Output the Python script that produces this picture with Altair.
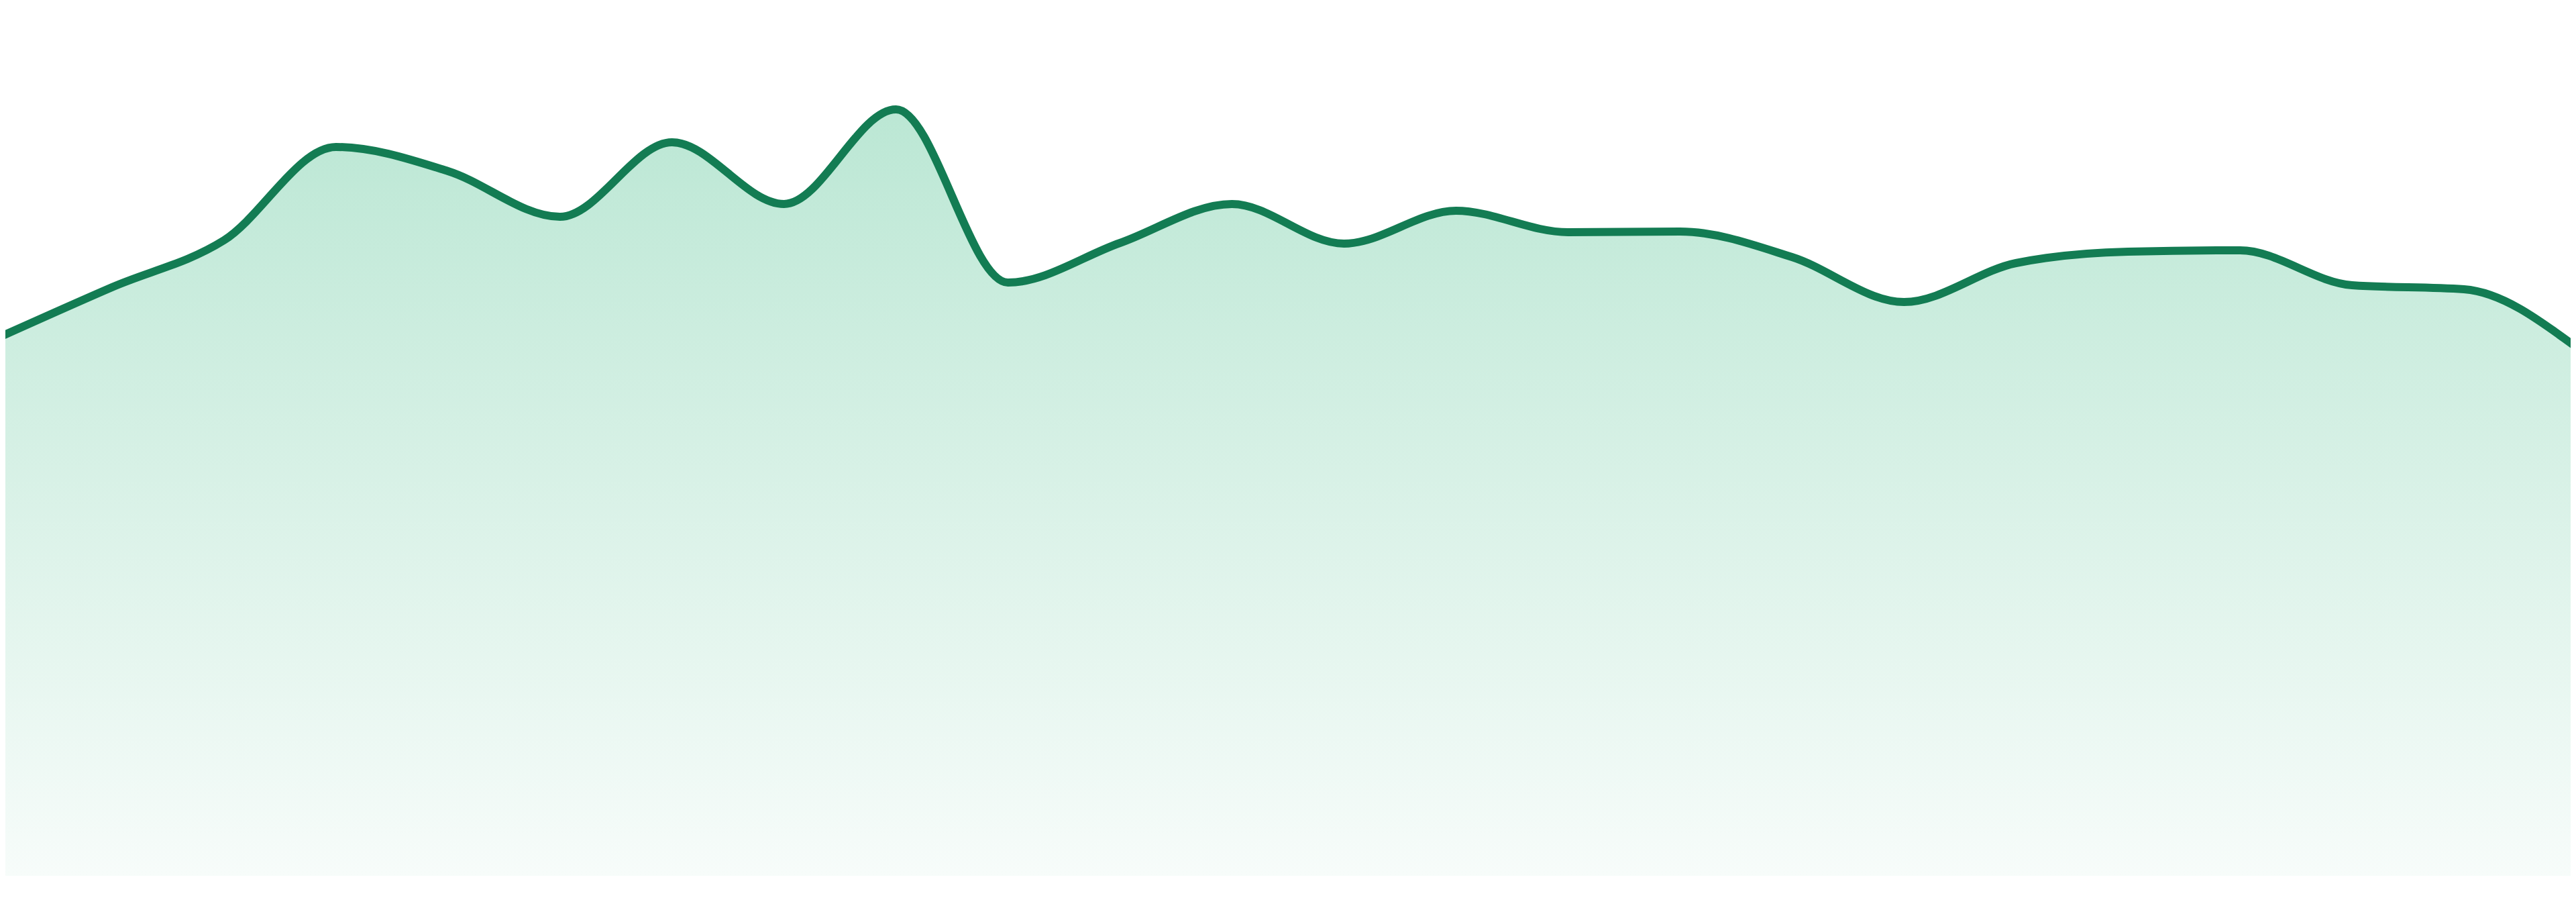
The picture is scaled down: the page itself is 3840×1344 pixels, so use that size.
import altair as alt
import pandas as pd

# point index along the x axis (24 evenly spaced points)
idx = list(range(24))
# series values (arbitrary units)
values = [80.3, 87.7, 94.7, 108.6, 105.0, 98.2, 109.3, 100.1, 114.2, 88.4,
          94.3, 100.1, 94.2, 99.1, 95.9, 96.0, 92.2, 85.5, 91.3, 93.0,
          93.2, 88.0, 87.4, 78.8]

df = pd.DataFrame({"i": idx, "v": values})

step = 3840 / 23
x = alt.X("i:Q", axis=None,
          scale=alt.Scale(domain=[8 / step, 3832 / step], nice=False, zero=False))
y = alt.Y("v:Q", axis=None, scale=alt.Scale(domain=[0, 129.7], nice=False, zero=False))

base = alt.Chart(df).encode(x=x, y=y)

area = base.mark_area(
    interpolate="monotone",
    clip=True,
    color=alt.Gradient(
        gradient="linear",
        stops=[alt.GradientStop(color="#BBE7D4", offset=0),
               alt.GradientStop(color="#F7FCFA", offset=1)],
        x1=0, x2=0, y1=0, y2=1,
    ),
)

line = base.mark_line(
    interpolate="monotone",
    clip=True,
    color="#137C53",
    strokeWidth=12,
)

chart = (area + line).properties(
    width=3824, height=1297, padding=0
).configure_view(stroke=None)

chart.save("out.html", embed_options={"renderer": "svg", "actions": False})
